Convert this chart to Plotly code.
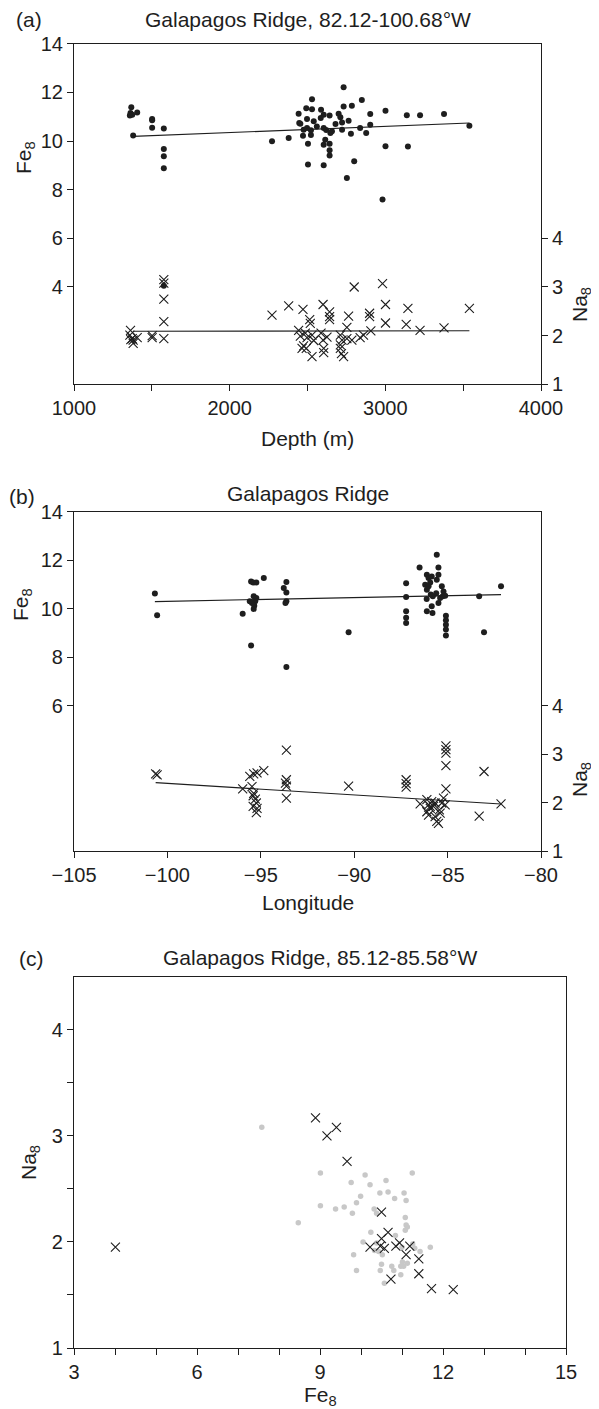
import plotly.graph_objects as go

# ---------------- Panel (a): Depth vs Fe8 / Na8 ----------------
a_fe_depth = [1368, 1363, 1374, 1359, 1406, 1380, 1502, 1502, 1502, 1577, 1577, 1577, 1577, 1577,
              2272, 2379, 2443, 2447, 2732, 2529, 2849, 2492, 2529, 2732, 2785, 2587, 2903, 3001,
              3138, 3223, 3377, 3540, 2454, 2497, 2540, 2604, 2642, 2700, 2711, 2764, 2722, 2475,
              2497, 2522, 2604, 2657, 2647, 2722, 2838, 2903, 2471, 2522, 2779, 2877, 2503, 2604,
              2642, 2614, 2642, 2642, 3001, 3145, 2503, 2604, 2800, 2753, 2982, 2560, 2680, 2620, 2585]
a_fe = [11.39, 11.15, 11.08, 11.05, 11.17, 10.23, 10.91, 10.85, 10.55, 10.51, 9.67, 9.37, 8.88, 4.05,
        9.99, 10.12, 11.12, 10.74, 12.21, 11.72, 11.69, 11.35, 11.31, 11.42, 11.45, 11.28, 11.11, 11.24,
        11.06, 11.06, 11.11, 10.63, 10.71, 10.90, 10.81, 11.08, 11.05, 11.12, 10.98, 10.83, 10.76, 10.46,
        10.53, 10.44, 10.53, 10.40, 10.33, 10.46, 10.53, 10.67, 10.22, 10.25, 10.30, 10.33, 9.89, 9.85,
        9.89, 10.05, 9.62, 9.40, 9.78, 9.77, 9.03, 9.00, 9.17, 8.48, 7.60, 10.60, 10.70, 10.45, 10.95]
a_na_depth = [1363, 1359, 1374, 1380, 1380, 1406, 1365, 1502, 1502, 1577, 1577, 1577, 1577, 1577,
              2272, 2379, 2443, 2471, 2600, 2642, 2642, 2642, 2800, 2982, 3001, 3145, 3540, 2764,
              2899, 2899, 3001, 3134, 3223, 3377, 2514, 2518, 2486, 2497, 2529, 2540, 2475, 2492,
              2529, 2587, 2600, 2604, 2604, 2625, 2711, 2722, 2711, 2711, 2732, 2718, 2753, 2753,
              2785, 2838, 2860, 2907, 2454, 2465]
a_na = [2.11, 2.01, 1.94, 1.91, 1.84, 1.96, 1.92, 2.00, 1.96, 3.15, 3.08, 2.75, 2.29, 1.94,
        2.42, 2.61, 2.11, 2.54, 2.64, 2.49, 2.39, 2.33, 3.00, 3.07, 2.64, 2.56, 2.56, 2.40,
        2.46, 2.39, 2.26, 2.23, 2.11, 2.16, 2.33, 2.25, 2.05, 1.96, 2.01, 1.90, 1.79, 1.74,
        1.57, 2.05, 1.91, 1.74, 1.65, 1.97, 2.01, 1.91, 1.81, 1.74, 1.57, 1.63, 2.17, 1.94,
        1.91, 1.96, 2.01, 2.10, 1.99, 1.74]
a_fe_trend_depth = [1380, 3540]
a_fe_trend = [10.19, 10.74]
a_na_trend_depth = [1380, 3540]
a_na_trend = [2.09, 2.10]

# ---------------- Panel (b): Longitude vs Fe8 / Na8 ----------------
b_fe_lon = [-100.67, -100.55, -95.97, -95.52, -95.52, -95.41, -95.24, -94.84, -95.38, -95.24,
            -95.30, -95.47, -95.35, -95.38, -95.59, -93.63, -93.77, -93.63, -93.63, -93.68, -93.63,
            -90.30, -87.22, -87.22, -87.22, -87.22, -87.22, -86.50, -85.58, -85.49, -86.11, -86.02,
            -85.93, -86.20, -86.11, -85.85, -85.58, -85.49, -86.02, -85.90, -85.79, -85.61, -85.31,
            -85.22, -85.26, -85.13, -86.12, -85.49, -85.40, -85.85, -86.11, -85.81, -85.09, -85.09,
            -85.09, -85.09, -85.09, -83.31, -83.05, -82.14]
b_fe = [10.62, 9.73, 9.79, 8.48, 11.12, 11.08, 11.08, 11.26, 10.51, 10.44,
        10.30, 10.23, 10.12, 9.99, 10.30, 11.10, 10.85, 10.67, 10.30, 10.23, 7.59,
        9.03, 11.05, 10.48, 9.89, 9.62, 9.41, 11.70, 12.22, 11.70, 11.40, 11.26,
        11.08, 10.99, 10.78, 11.33, 11.19, 11.40, 10.92, 10.58, 10.51, 10.64, 10.92,
        10.71, 10.51, 10.53, 10.40, 10.23, 10.44, 10.10, 9.89, 9.82, 9.71, 9.52,
        9.34, 9.14, 8.89, 10.51, 9.03, 10.92]
b_na_lon = [-100.63, -100.55, -95.97, -95.59, -95.38, -95.20, -94.84, -95.47, -95.38, -95.41,
            -95.29, -95.24, -95.41, -95.20, -95.24, -93.63, -93.63, -93.68, -93.63, -93.63,
            -90.30, -87.22, -87.22, -87.22, -86.47, -86.11, -86.02, -85.93, -85.85, -85.76,
            -86.11, -86.02, -85.67, -85.58, -85.49, -85.44, -85.31, -85.22, -85.13, -85.09,
            -85.09, -85.09, -85.09, -85.09, -83.31, -83.05, -82.14, -85.93, -85.67, -85.40]
b_na = [2.59, 2.57, 2.28, 2.54, 2.59, 2.61, 2.66, 2.33, 2.19, 2.14,
        2.07, 1.99, 1.92, 1.88, 1.79, 3.08, 2.47, 2.40, 2.34, 2.09,
        2.34, 2.47, 2.39, 2.32, 1.97, 2.06, 1.95, 1.88, 2.02, 1.92,
        1.81, 1.74, 1.71, 1.61, 1.57, 1.85, 1.99, 2.09, 1.95, 3.17,
        3.09, 3.02, 2.76, 2.28, 1.72, 2.64, 1.97, 1.92, 1.99, 1.78]
b_fe_trend_lon = [-100.67, -82.14]
b_fe_trend = [10.29, 10.58]
b_na_trend_lon = [-100.63, -82.14]
b_na_trend = [2.41, 1.97]

# ---------------- Panel (c): Fe8 vs Na8 ----------------
c_all_fe = [7.58, 9.01, 10.10, 11.25, 9.76, 10.22, 10.61, 10.46, 10.66, 11.05, 9.99, 10.82, 11.10,
            9.89, 9.01, 9.38, 9.59, 10.32, 10.38, 9.79, 8.47, 11.08, 11.10, 11.13, 11.08, 10.24,
            10.84, 10.05, 10.38, 11.00, 11.31, 11.44, 11.69, 11.26, 9.82, 10.43, 10.52, 11.01,
            11.13, 10.50, 10.75, 10.97, 11.04, 9.89, 10.47, 10.80, 10.97, 10.57, 10.33]
c_all_na = [3.08, 2.65, 2.63, 2.65, 2.56, 2.54, 2.58, 2.46, 2.47, 2.46, 2.43, 2.41, 2.39,
            2.37, 2.34, 2.31, 2.33, 2.31, 2.27, 2.27, 2.18, 2.23, 2.16, 2.14, 2.11, 2.09,
            2.06, 2.00, 1.99, 1.95, 1.94, 1.91, 1.95, 1.98, 1.88, 1.91, 1.88, 1.81,
            1.80, 1.79, 1.77, 1.77, 1.77, 1.73, 1.73, 1.73, 1.69, 1.61, 1.92]
c_sel_fe = [9.17, 9.40, 8.89, 9.66, 4.01, 10.50, 10.66, 10.50, 10.22, 10.47, 10.57, 10.85, 10.94,
            11.19, 11.10, 11.41, 11.41, 10.73, 11.72, 12.25]
c_sel_na = [3.00, 3.08, 3.17, 2.76, 1.95, 2.28, 2.09, 2.03, 1.95, 1.96, 1.94, 1.96, 1.99,
            1.96, 1.88, 1.84, 1.70, 1.65, 1.56, 1.55]

# ---------------- Figure ----------------
PAGE_W, PAGE_H = 599, 1409
OFF = 8  # default page body margin
W, H = PAGE_W - OFF, PAGE_H - OFF
FONT = "Liberation Sans, Arial, Helvetica, sans-serif"
INK = "#1e1e1e"
FS = 20
FT = 21


def fx(x):
    return (x - OFF) / W


def fy(y):
    return 1 - (y - OFF) / H


dot = dict(size=6, color=INK)
cross = dict(symbol="x-thin-open", size=9, color=INK, line=dict(width=1.1, color=INK))
trend = dict(color=INK, width=1.1)

fig = go.Figure()
# panel a
fig.add_trace(go.Scatter(x=a_fe_depth, y=a_fe, mode="markers", marker=dot, xaxis="x", yaxis="y"))
fig.add_trace(go.Scatter(x=a_fe_trend_depth, y=a_fe_trend, mode="lines", line=trend, xaxis="x", yaxis="y"))
fig.add_trace(go.Scatter(x=a_na_depth, y=a_na, mode="markers", marker=cross, xaxis="x", yaxis="y2"))
fig.add_trace(go.Scatter(x=a_na_trend_depth, y=a_na_trend, mode="lines", line=trend, xaxis="x", yaxis="y2"))
# panel b
fig.add_trace(go.Scatter(x=b_fe_lon, y=b_fe, mode="markers", marker=dot, xaxis="x2", yaxis="y3"))
fig.add_trace(go.Scatter(x=b_fe_trend_lon, y=b_fe_trend, mode="lines", line=trend, xaxis="x2", yaxis="y3"))
fig.add_trace(go.Scatter(x=b_na_lon, y=b_na, mode="markers", marker=cross, xaxis="x2", yaxis="y4"))
fig.add_trace(go.Scatter(x=b_na_trend_lon, y=b_na_trend, mode="lines", line=trend, xaxis="x2", yaxis="y4"))
# panel c
fig.add_trace(go.Scatter(x=c_all_fe, y=c_all_na, mode="markers", marker=dict(size=5.5, color="#c8c8c8"),
                         xaxis="x3", yaxis="y5"))
fig.add_trace(go.Scatter(x=c_sel_fe, y=c_sel_na, mode="markers", marker=cross, xaxis="x3", yaxis="y5"))

axbase = dict(showline=True, linecolor=INK, linewidth=1.2, ticks="outside", ticklen=6, tickwidth=1.2,
              tickcolor=INK, showgrid=False, zeroline=False, automargin=False,
              tickfont=dict(family=FONT, size=FS, color=INK))
minor_base = dict(ticks="outside", ticklen=6, tickwidth=1.2, tickcolor=INK, showgrid=False)

A = (43.7, 384.3)
B = (511.7, 851.0)
C = (976.7, 1348.0)

fig.update_layout(
    width=W, height=H, margin=dict(l=0, r=0, t=0, b=0, autoexpand=False), showlegend=False,
    paper_bgcolor="white", plot_bgcolor="white",
    font=dict(family=FONT, size=FS, color=INK),
    xaxis=dict(axbase, domain=[fx(74), fx(541)], anchor="y", range=[1000, 4000], tickvals=[1000, 2000, 3000, 4000],
               mirror=True, minor=dict(minor_base, tickvals=[1500, 2500, 3500])),
    yaxis=dict(axbase, domain=[fy(A[1]), fy(A[0])], anchor="x", range=[0, 14], tickvals=[4, 6, 8, 10, 12, 14]),
    yaxis2=dict(axbase, overlaying="y", side="right", anchor="x", range=[1, 8], tickvals=[1, 2, 3, 4]),
    xaxis2=dict(axbase, domain=[fx(74), fx(541)], anchor="y3", range=[-105, -80],
                tickvals=[-105, -100, -95, -90, -85, -80], mirror=True),
    yaxis3=dict(axbase, domain=[fy(B[1]), fy(B[0])], anchor="x2", range=[0, 14], tickvals=[6, 8, 10, 12, 14]),
    yaxis4=dict(axbase, overlaying="y3", side="right", anchor="x2", range=[1, 8], tickvals=[1, 2, 3, 4]),
    xaxis3=dict(axbase, domain=[fx(74), fx(566)], anchor="y5", range=[3, 15], tickvals=[3, 6, 9, 12, 15],
                mirror=True, minor=dict(minor_base, tickvals=[4, 5, 7, 8, 10, 11, 13, 14])),
    yaxis5=dict(axbase, domain=[fy(C[1]), fy(C[0])], anchor="x3", range=[1, 4.5], tickvals=[1, 2, 3, 4],
                mirror=True, minor=dict(minor_base, tickvals=[1.5, 2.5, 3.5])),
)


def note(text, x, y, angle=0, size=FT):
    fig.add_annotation(text=text, x=fx(x), y=fy(y), xref="paper", yref="paper", showarrow=False,
                       xanchor="center", yanchor="middle", textangle=angle,
                       font=dict(family=FONT, size=size, color=INK))


note("(a)", 29, 19)
note("Galapagos Ridge, 82.12-100.68°W", 307.5, 19)
note("Fe<sub>8</sub>", 25, 158, -90)
note("Na<sub>8</sub>", 581, 305, -90)
note("Depth (m)", 307.5, 439)

note("(b)", 22, 496)
note("Galapagos Ridge", 307.5, 493)
note("Fe<sub>8</sub>", 22, 605, -90)
note("Na<sub>8</sub>", 581, 780, -90)
note("Longitude", 307.5, 902)

note("(c)", 32, 958)
note("Galapagos Ridge, 85.12-85.58°W", 320, 957)
note("Na<sub>8</sub>", 30, 1163, -90)
note("Fe<sub>8</sub>", 320, 1396)

fig.write_html("out.html")
